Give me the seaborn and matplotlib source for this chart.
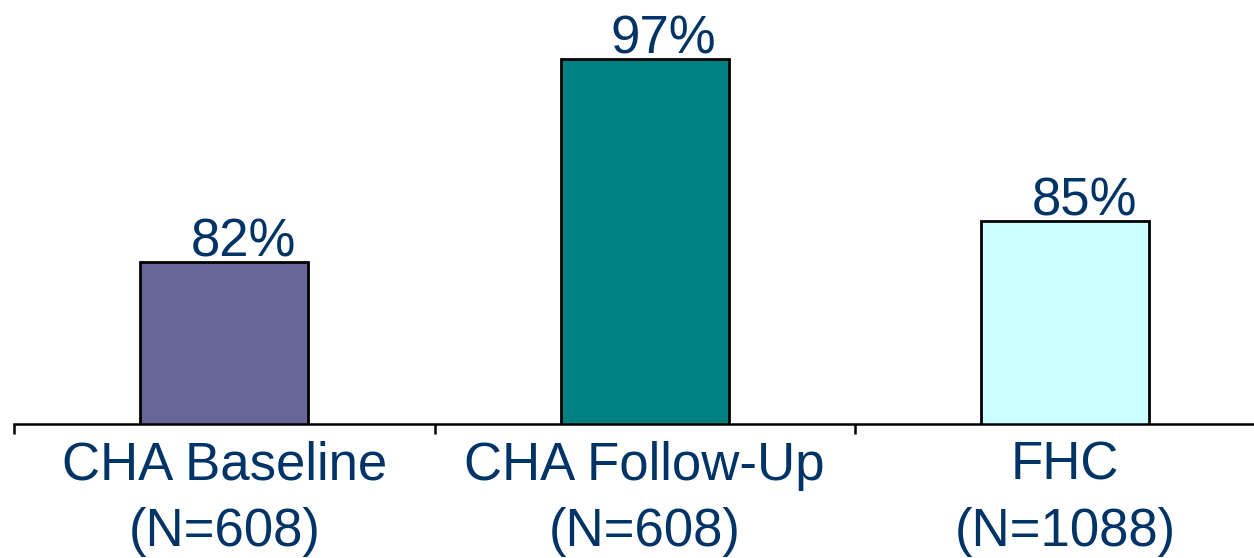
import matplotlib
matplotlib.use("Agg")
import matplotlib.pyplot as plt
import seaborn as sns
import pandas as pd

categories = ["CHA Baseline\n(N=608)", "CHA Follow-Up\n(N=608)", "FHC\n(N=1088)"]
values = [82, 97, 85]
bar_colors = ["#666699", "#008080", "#CCFFFF"]
text_color = "#003366"

sns.set_theme(style="white")
plt.rcParams["font.family"] = ["Liberation Sans", "DejaVu Sans"]

df = pd.DataFrame({"group": categories, "pct": values})

W, H = 1254, 558
fig = plt.figure(figsize=(W / 100, H / 100), dpi=100)
ax = fig.add_axes([14 / W, (H - 424) / H, 3 * 420.5 / W, 406 / H])

sns.barplot(data=df, x="group", y="pct", hue="group", palette=bar_colors,
            saturation=1, width=0.4, edgecolor="black", linewidth=2,
            legend=False, ax=ax)

ax.set_ylim(70, 100)
ax.set_xlim(-0.5, 2.5)
ax.set_xlabel("")
ax.set_ylabel("")
ax.set_yticks([])

for s in ["left", "top", "right"]:
    ax.spines[s].set_visible(False)
ax.spines["bottom"].set_color("black")
ax.spines["bottom"].set_linewidth(1.8)

# category separators as minor ticks, labels on major ticks
ax.set_xticks([0, 1, 2])
ax.set_xticklabels(categories, fontsize=38, color=text_color, linespacing=1.42)
ax.set_xticks([-0.5, 0.5, 1.5, 2.5], minor=True)
ax.tick_params(axis="x", which="major", length=0, pad=12)
ax.tick_params(axis="x", which="minor", length=7.5, width=1.8, color="black",
               direction="out", bottom=True)

for i, v in enumerate(values):
    ax.text(i + 0.045, v + 0.37, f"{v}%", ha="center", va="baseline",
            fontsize=38, color=text_color)

fig.savefig("out.png", dpi=100)
